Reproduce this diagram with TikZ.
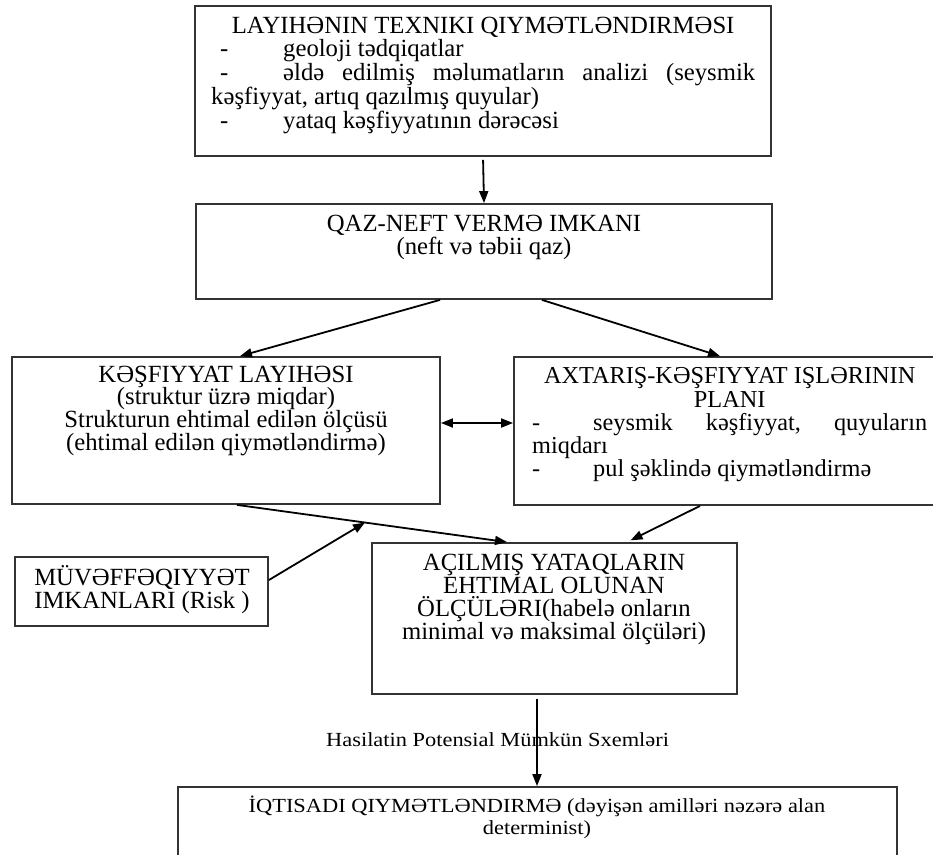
\documentclass[tikz,border=0pt]{standalone}
\usepackage{fontspec}
\setmainfont{Liberation Serif}
\usetikzlibrary{arrows.meta,calc}
\newcommand\bigf[1]{\fontsize{24.7}{#1}\selectfont}
\newcommand\smallf{\fontsize{20}{22}\selectfont}
\begin{document}
\begin{tikzpicture}[x=1pt,y=-1pt,
  box/.style={draw=black!80, line width=1.8pt, inner sep=0pt, rectangle},
  arr/.style={-{Triangle[length=12pt,width=9pt]}, line width=1.8pt, black},
  dbl/.style={{Triangle[length=12pt,width=9pt]}-{Triangle[length=12pt,width=9pt]}, line width=1.8pt, black},
  txtw/.style={inner sep=0pt, anchor=base west},
  txtc/.style={inner sep=0pt, anchor=base}]
\useasboundingbox (0,0) rectangle (933,854);
\fill[white] (0,0) rectangle (933,854);

% boxes
\node[box, minimum width=576pt, minimum height=150pt] (b1) at (483,81) {};
\node[box, minimum width=576pt, minimum height=95pt] (b2) at (484,251.5) {};
\node[box, minimum width=428pt, minimum height=147pt] (b3) at (226,430.5) {};
\node[box, minimum width=421pt, minimum height=148pt] (b4) at (724.5,431) {};
\node[box, minimum width=253pt, minimum height=69pt] (b5) at (141.5,591.5) {};
\node[box, minimum width=365pt, minimum height=151pt] (b6) at (554.5,618.5) {};
\node[box, minimum width=719pt, minimum height=83pt] (b7) at (537.5,828.5) {};

% texts
\node[txtw] (t1) at (211,33) {\parbox[t]{544pt}{\bigf{23.8}%
\hbox to\linewidth{\hfil LAYIHƏNIN TEXNIKI QIYMƏTLƏNDIRMƏSI\hfil}
\hbox to\linewidth{\hspace*{9pt}\makebox[63pt][l]{-}geoloji tədqiqatlar\hfil}
\hbox to\linewidth{\hspace*{9pt}\makebox[63pt][l]{-}əldə \hfill edilmiş \hfill məlumatların \hfill analizi \hfill (seysmik}
\hbox to\linewidth{kəşfiyyat, artıq qazılmış quyular)\hfil}
\hbox to\linewidth{\hspace*{9pt}\makebox[63pt][l]{-}yataq kəşfiyyatının dərəcəsi\hfil}}};

\node[txtc] (t2) at (484,231) {\parbox[t]{560pt}{\centering\bigf{23}%
QAZ-NEFT VERMƏ IMKANI\\(neft və təbii qaz)}};

\node[txtc] (t3) at (226,382) {\parbox[t]{420pt}{\centering\bigf{22.8}%
KƏŞFIYYAT LAYIHƏSI\\(struktur üzrə miqdar)\\Strukturun ehtimal edilən ölçüsü\\(ehtimal edilən qiymətləndirmə)}};

\node[txtw] (t4) at (532,383) {\parbox[t]{395pt}{\fontsize{24.3}{23}\selectfont
\hbox to\linewidth{\hfil AXTARIŞ-KƏŞFIYYAT IŞLƏRININ\hfil}
\vspace{1pt}
\hbox to\linewidth{\hfil PLANI\hfil}
\hbox to\linewidth{\makebox[61pt][l]{-}seysmik \hfill kəşfiyyat, \hfill quyuların}
\hbox to\linewidth{miqdarı\hfil}
\hbox to\linewidth{\makebox[61pt][l]{-}pul şəklində qiymətləndirmə\hfil}}};

\node[txtc] (t5) at (142,585) {\parbox[t]{250pt}{\centering\bigf{23}%
MÜVƏFFƏQIYYƏT\\IMKANLARI (Risk )}};

\node[txtc] (t6) at (554,570) {\parbox[t]{360pt}{\centering\bigf{23.3}%
AÇILMIŞ YATAQLARIN\\EHTIMAL OLUNAN\\ÖLÇÜLƏRI(habelə onların\\minimal və maksimal ölçüləri)}};

\node[txtc] (t7) at (537,812) {\scalebox{1.12}[1]{\parbox[t]{640pt}{\centering\smallf
İQTISADI QIYMƏTLƏNDIRMƏ (dəyişən amilləri nəzərə alan\\determinist)}}};

\node[txtw] (lab) at (326,746) {\scalebox{1.12}[1]{\smallf Hasilatin Potensial Mümkün Sxemləri}};

% connectors
\draw[arr, shorten <=3pt] (b1.south) -- (b2.north);
\draw[arr] ([xshift=-44pt]b2.south) -- ([xshift=14pt]b3.north);
\draw[arr] ([xshift=58pt]b2.south) -- ([xshift=-4.5pt]b4.north);
\draw[dbl] ([yshift=7.5pt]b3.east) -- ([yshift=8pt]b4.west);
\coordinate (p1) at ([xshift=11pt]b3.south);
\coordinate (p2) at ([xshift=-47.5pt]b6.north);
\draw[arr] (p1) -- (p2);
\coordinate (m) at ($(p1)!0.474!(p2)$);
\draw[arr] ([yshift=11.5pt]b5.east) -- (m);
\draw[arr, shorten >=4pt] ([xshift=-24.5pt]b4.south) -- ([xshift=72.5pt]b6.north);
\draw[arr, shorten <=4pt] ([xshift=-17.5pt]b6.south) -- ([xshift=-0.5pt]b7.north);
\end{tikzpicture}
\end{document}
